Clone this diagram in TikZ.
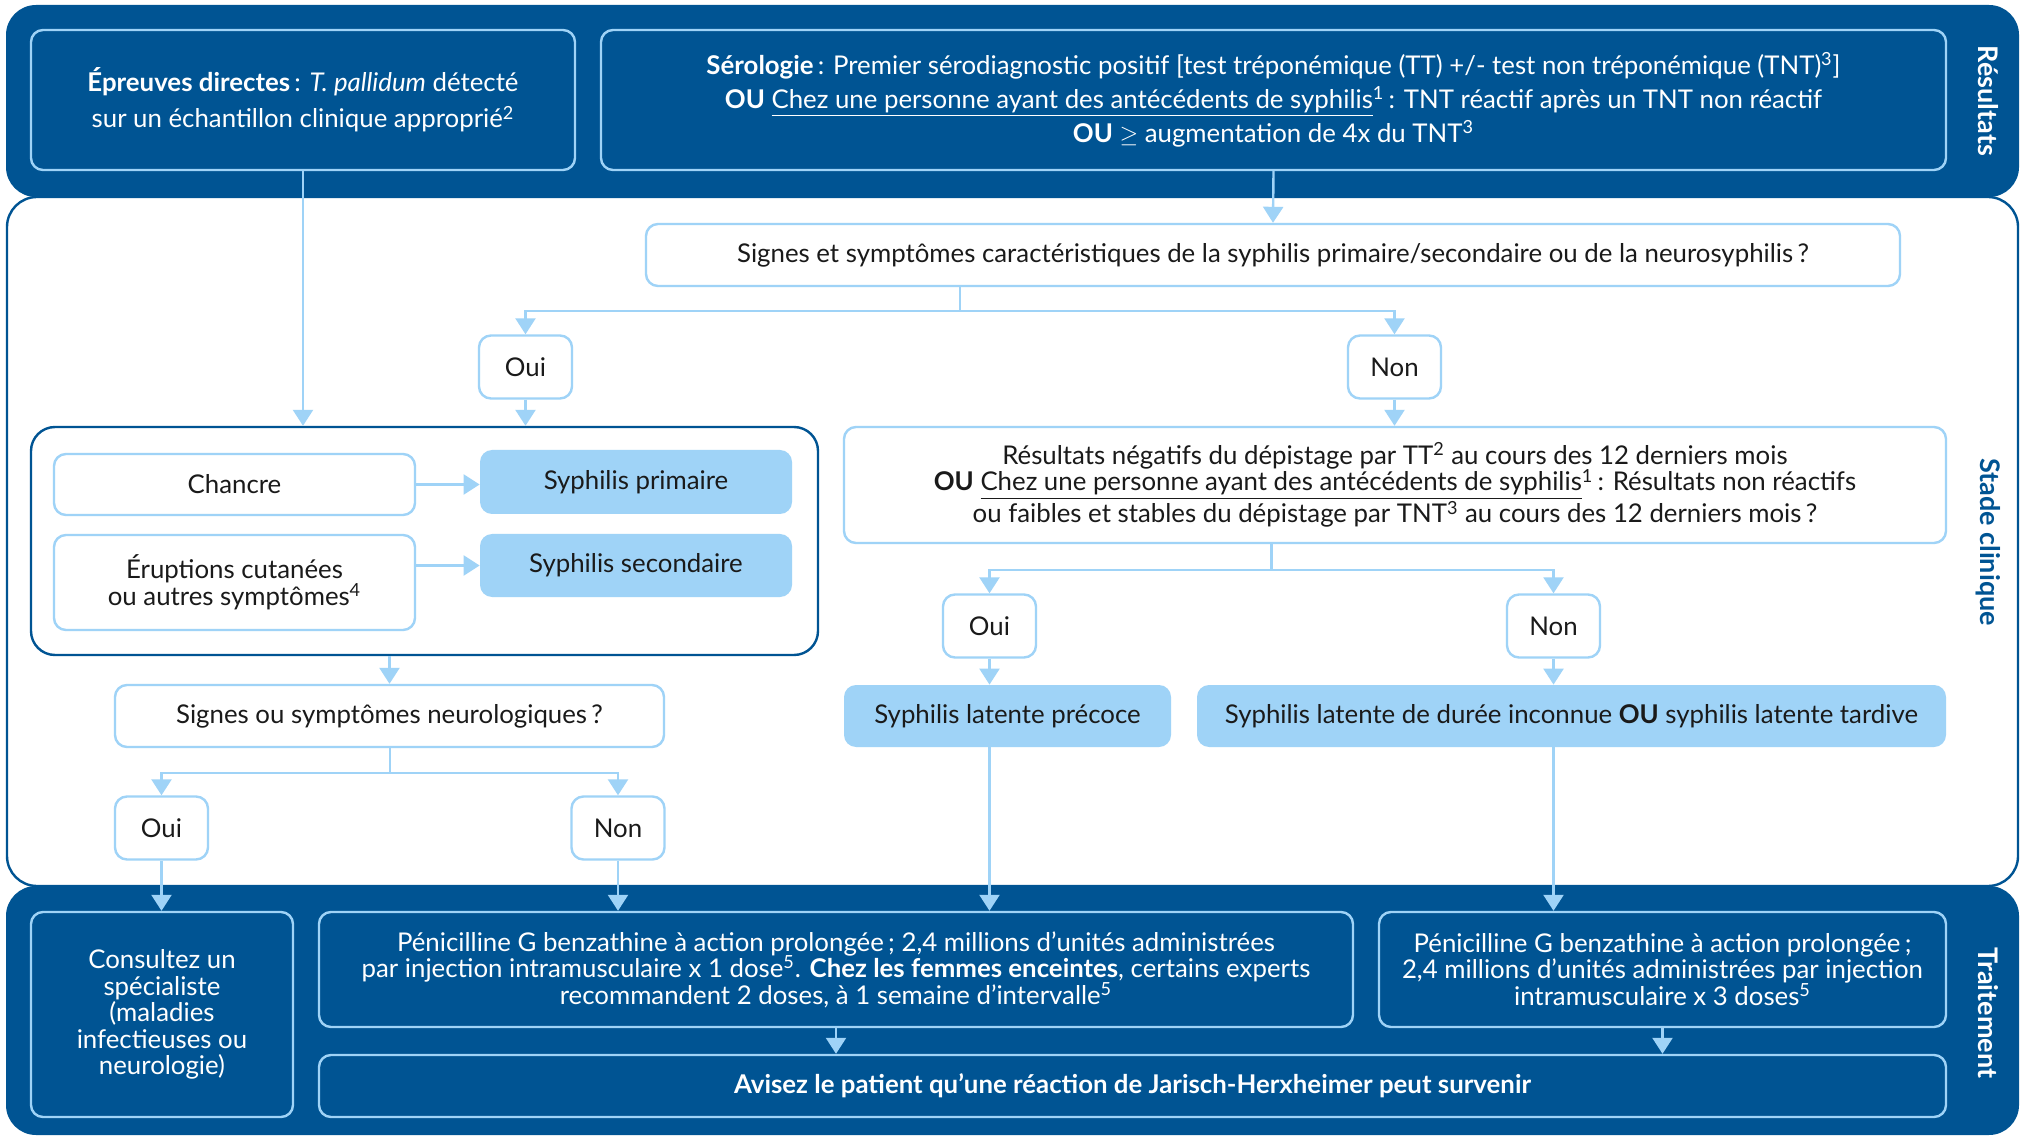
\documentclass[tikz,border=0pt]{standalone}
\usepackage{fontspec}
\setmainfont{Lato}
\usetikzlibrary{arrows.meta,calc}
\definecolor{Navy}{HTML}{005493}
\definecolor{Sky}{HTML}{9FD3F7}
\definecolor{Ink}{HTML}{1A1A1A}
\tikzset{
  basebox/.style={align=center, inner sep=0pt, rounded corners=6pt, font=\fontsize{12.9}{13.3}\selectfont},
  darkbox/.style={basebox, draw=Sky, line width=1.2pt, fill=Navy, text=white},
  whitebox/.style={basebox, draw=Sky, line width=1.2pt, fill=white, text=Ink},
  stagebox/.style={basebox, fill=Sky, text=Ink},
  answer/.style={whitebox, minimum width=46.5pt, minimum height=31.5pt},
  link/.style={draw=Sky, line width=1.2pt, -{Triangle[width=10pt,length=8pt]}},
  bandlabel/.style={rotate=-90, font=\bfseries\fontsize{13.5}{15}\selectfont},
}

\begin{document}
\begin{tikzpicture}[x=0.5pt,y=-0.5pt]
\useasboundingbox (0,0) rectangle (2023,1138);
% Bands
\draw [Navy,line width=1.2pt,fill=white,rounded corners=15pt] (7,197) rectangle (2018,886);
\fill [Navy,rounded corners=15pt] (6,5) rectangle (2019,197);
\fill [Navy,rounded corners=15pt] (6,886) rectangle (2019,1135);
\node [bandlabel,text=white] (lres) at (1988,101) {Résultats};
\node [bandlabel,text=Navy] (lstade) at (1988,542) {Stade clinique};
\node [bandlabel,text=white] (ltrait) at (1988,1013) {Traitement};
% Results
\node [darkbox,minimum width=272pt,minimum height=70pt,font=\fontsize{12.9}{18}\selectfont] (epreuves) at (303,100)
  {{\bfseries Épreuves directes}\,: \textit{T.~pallidum} détecté\\sur un échantillon clinique approprié\textsuperscript{2}};
\node [darkbox,minimum width=672.5pt,minimum height=70pt,font=\fontsize{12.9}{17}\selectfont] (serologie) at (1273.5,100)
  {{\bfseries Sérologie}\,: Premier sérodiagnostic positif [test tréponémique (TT) +/- test non tréponémique (TNT)\textsuperscript{3}]\\
   {\bfseries OU} \underline{Chez une personne ayant des antécédents de syphilis}\textsuperscript{1}\,: TNT réactif après un TNT non réactif\\
   {\bfseries OU} $\geq$ augmentation de 4x du TNT\textsuperscript{3}};
% Clinical stage
\node [whitebox,minimum width=627pt,minimum height=31pt] (signes) at (1273,255)
  {Signes et symptômes caractéristiques de la syphilis primaire/secondaire ou de la neurosyphilis\,?};
\node [answer] (oui1) at (525.5,367) {Oui};
\node [answer] (non1) at (1394.5,367) {Non};
\node [basebox,draw=Navy,line width=1.2pt,fill=white,rounded corners=12pt,minimum width=393.5pt,minimum height=114pt] (group) at (424.5,541) {};
\node [whitebox,minimum width=180.5pt,minimum height=30.5pt] (chancre) at (234.5,484.5) {Chancre};
\node [stagebox,minimum width=156pt,minimum height=32pt] (primaire) at (636,482) {Syphilis primaire};
\node [whitebox,minimum width=180.5pt,minimum height=47.5pt] (eruptions) at (234.5,582.5)
  {Éruptions cutanées\\ou autres symptômes\textsuperscript{4}};
\node [stagebox,minimum width=156pt,minimum height=31.5pt] (secondaire) at (636,565.5) {Syphilis secondaire};
\node [whitebox,minimum width=274.5pt,minimum height=31pt] (neuro) at (389.5,716) {Signes ou symptômes neurologiques\,?};
\node [answer] (oui2) at (161.5,828) {Oui};
\node [answer] (non2) at (618,828) {Non};
\node [whitebox,minimum width=551pt,minimum height=58pt] (negatifs) at (1395,485)
  {Résultats négatifs du dépistage par TT\textsuperscript{2} au cours des 12 derniers mois\\
   {\bfseries OU} \underline{Chez une personne ayant des antécédents de syphilis}\textsuperscript{1}\,: Résultats non réactifs\\
   ou faibles et stables du dépistage par TNT\textsuperscript{3} au cours des 12 derniers mois\,?};
\node [answer] (oui3) at (989.5,626) {Oui};
\node [answer] (non3) at (1553.5,626) {Non};
\node [stagebox,minimum width=163.5pt,minimum height=31pt] (precoce) at (1007.5,716) {Syphilis latente précoce};
\node [stagebox,minimum width=374.5pt,minimum height=31pt] (inconnue) at (1571.5,716)
  {Syphilis latente de durée inconnue {\bfseries OU} syphilis latente tardive};
% Treatment
\node [darkbox,minimum width=131pt,minimum height=102.5pt] (consultez) at (162,1014.5)
  {Consultez un\\spécialiste\\(maladies\\infectieuses ou\\neurologie)};
\node [darkbox,minimum width=517pt,minimum height=57.5pt] (pen1) at (836,969.5)
  {Pénicilline G benzathine à action prolongée\,; 2,4 millions d’unités administrées\\
   par injection intramusculaire x 1 dose\textsuperscript{5}. {\bfseries Chez les femmes enceintes}, certains experts\\
   recommandent 2 doses, à 1 semaine d’intervalle\textsuperscript{5}};
\node [darkbox,minimum width=283.5pt,minimum height=57.5pt] (pen2) at (1662.5,969.5)
  {Pénicilline G benzathine à action prolongée\,;\\
   2,4 millions d’unités administrées par injection\\
   intramusculaire x 3 doses\textsuperscript{5}};
\node [darkbox,minimum width=813.5pt,minimum height=31pt,font=\bfseries\fontsize{12.9}{13.3}\selectfont] (avisez) at (1132.5,1086)
  {Avisez le patient qu’une réaction de Jarisch-Herxheimer peut survenir};
% Connectors
\coordinate (s1) at ($(oui1.north)!0.5!(non1.north)$);
\coordinate (s2) at ($(oui2.north)!0.5!(non2.north)$);
\coordinate (s3) at ($(oui3.north)!0.5!(non3.north)$);
\draw [link] (serologie.south) -- (signes.north);
\draw [link] (epreuves.south) -- (epreuves.south |- group.north);
\draw [link] (s1 |- signes.south) -- ++(0,24) -| (oui1.north);
\draw [link] (s1 |- signes.south) -- ++(0,24) -| (non1.north);
\draw [link] (oui1.south) -- (oui1.south |- group.north);
\draw [link] (non1.south) -- (non1.south |- negatifs.north);
\draw [link] (chancre.east) -- (chancre.east -| primaire.west);
\draw [link] (secondaire.west -| eruptions.east) -- (secondaire.west);
\draw [link] (neuro.north |- group.south) -- (neuro.north);
\draw [link] (s2 |- neuro.south) -- ++(0,25) -| (oui2.north);
\draw [link] (s2 |- neuro.south) -- ++(0,25) -| (non2.north);
\draw [link] (s3 |- negatifs.south) -- ++(0,26) -| (oui3.north);
\draw [link] (s3 |- negatifs.south) -- ++(0,26) -| (non3.north);
\draw [link] (oui3.south) -- (oui3.south |- precoce.north);
\draw [link] (non3.south) -- (non3.south |- inconnue.north);
\draw [link] (oui2.south) -- (oui2.south |- consultez.north);
\draw [link] (non2.south) -- (non2.south |- pen1.north);
\draw [link] (oui3.south |- precoce.south) -- (oui3.south |- pen1.north);
\draw [link] (non3.south |- inconnue.south) -- (non3.south |- pen2.north);
\draw [link] (pen1.south) -- (pen1.south |- avisez.north);
\draw [link] (pen2.south) -- (pen2.south |- avisez.north);
\end{tikzpicture}
\end{document}
